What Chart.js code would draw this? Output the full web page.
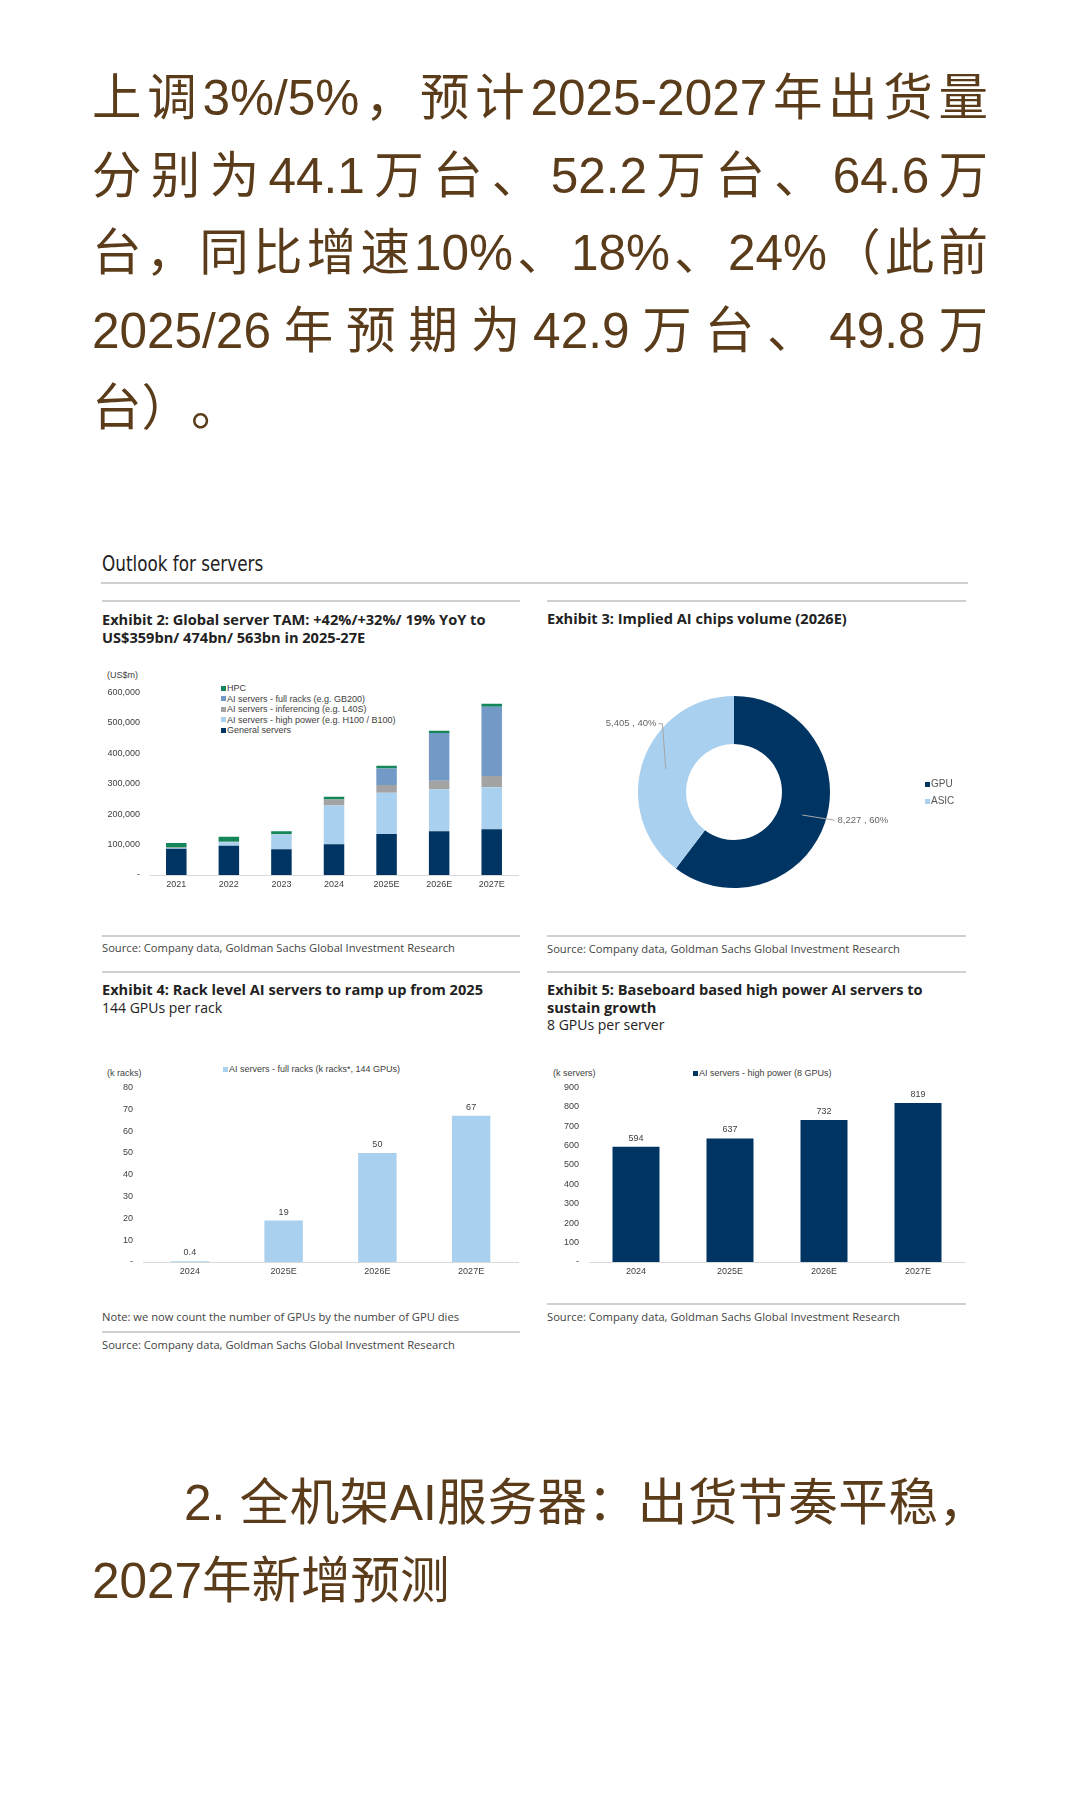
<!DOCTYPE html>
<html>
<head>
<meta charset="utf-8">
<script src="https://cdn.jsdelivr.net/npm/chart.js@4.4.1/dist/chart.umd.min.js"></script>
<style>
body { margin: 0; background: #fff; width: 1080px; height: 1800px; position: relative; overflow: hidden; font-family: "Open Sans", sans-serif; }
.cn { position: absolute; left: 92px; width: 896px; font-family: "Liberation Sans", "Noto Sans CJK SC", sans-serif; font-size: 49.5px; color: #5a3c1a; text-spacing-trim: space-all; }
.cn div { height: 77.5px; line-height: 77.5px; text-align: justify; text-align-last: justify; }
.cn div.last { text-align-last: left; }
.abs { position: absolute; }
.hr { position: absolute; height: 1.5px; background: #cfcfcf; }
.title { position: absolute; font-size: 14.6px; font-weight: 700; line-height: 17.5px; color: #222; white-space: nowrap; }
.sub { font-weight: 400; font-size: 14px; }
.src { position: absolute; font-size: 11.2px; line-height: 14px; color: #444; white-space: nowrap; }
.small { position: absolute; font-family: "Liberation Sans", Arial, sans-serif; font-size: 9px; color: #404040; white-space: nowrap; }
.lg i { display: inline-block; width: 5px; height: 5px; margin-right: 1px; vertical-align: 0.5px; }
canvas { position: absolute; }
</style>
</head>
<body>

<div class="cn" style="top:59px">
  <div>上调3%/5%，预计2025-2027年出货量</div>
  <div>分别为44.1万台、52.2万台、64.6万</div>
  <div>台，同比增速10%、18%、24%（此前</div>
  <div>2025/26年预期为42.9万台、49.8万</div>
  <div class="last">台）。</div>
</div>

<div class="abs" style="left:102px;top:552px;font-family:'Liberation Sans Narrow','DejaVu Sans Condensed',sans-serif;font-size:21px;line-height:25px;color:#222;transform:scaleX(0.89);transform-origin:left center">Outlook for servers</div>
<div class="hr" style="left:101px;top:582px;width:867px"></div>

<!-- row 1 -->
<div class="hr" style="left:102px;top:600px;width:418px"></div>
<div class="hr" style="left:547px;top:600px;width:419px"></div>
<div class="title" style="left:102px;top:611px">Exhibit 2: Global server TAM: +42%/+32%/ 19% YoY to<br>US$359bn/ 474bn/ 563bn in 2025-27E</div>
<div class="title" style="left:547px;top:610px">Exhibit 3: Implied AI chips volume (2026E)</div>

<div class="small" style="left:107px;top:670px">(US$m)</div>
<div class="small lg" id="legend2" style="left:221px;top:683px;line-height:10.5px"></div>
<canvas id="tam" style="left:100px;top:677px;width:420px;height:218px"></canvas>

<canvas id="chips" style="left:548px;top:650px;width:420px;height:280px"></canvas>
<div class="small lg" id="legend3" style="left:925px;top:775px;line-height:17px;font-size:10px;color:#555"></div>

<div class="hr" style="left:102px;top:935px;width:418px"></div>
<div class="hr" style="left:547px;top:935px;width:419px"></div>
<div class="src" style="left:102px;top:941px">Source: Company data, Goldman Sachs Global Investment Research</div>
<div class="src" style="left:547px;top:942px">Source: Company data, Goldman Sachs Global Investment Research</div>

<!-- row 2 -->
<div class="hr" style="left:102px;top:971px;width:418px"></div>
<div class="hr" style="left:547px;top:971px;width:419px"></div>
<div class="title" style="left:102px;top:981px">Exhibit 4: Rack level AI servers to ramp up from 2025<br><span class="sub">144 GPUs per rack</span></div>
<div class="title" style="left:547px;top:981px">Exhibit 5: Baseboard based high power AI servers to<br>sustain growth<br><span class="sub">8 GPUs per server</span></div>

<div class="small" style="left:107px;top:1068px">(k racks)</div>
<div class="small lg" id="legend4" style="left:223px;top:1064px"></div>
<canvas id="racks" style="left:100px;top:1072px;width:420px;height:210px"></canvas>

<div class="small" style="left:553px;top:1068px">(k servers)</div>
<div class="small lg" id="legend5" style="left:693px;top:1068px"></div>
<canvas id="servers" style="left:548px;top:1072px;width:420px;height:210px"></canvas>

<div class="src" style="left:102px;top:1310px">Note: we now count the number of GPUs by the number of GPU dies</div>
<div class="hr" style="left:102px;top:1331px;width:418px"></div>
<div class="src" style="left:102px;top:1338px">Source: Company data, Goldman Sachs Global Investment Research</div>
<div class="hr" style="left:547px;top:1303px;width:419px"></div>
<div class="src" style="left:547px;top:1310px">Source: Company data, Goldman Sachs Global Investment Research</div>

<div class="cn" style="top:1464px">
  <div style="height:78px;line-height:78px;text-indent:92px">2. 全机架AI服务器：出货节奏平稳，</div>
  <div class="last" style="height:78px;line-height:78px">2027年新增预测</div>
</div>

<script>
// Exhibit 2: global server TAM (US$m)
const tamYears = ['2021', '2022', '2023', '2024', '2025E', '2026E', '2027E'];
const generalServers = [86000, 96000, 85000, 101000, 135000, 144000, 150000];
const highPowerAI = [3000, 12000, 48000, 127000, 135000, 138000, 138000];
const inferencingAI = [1000, 1000, 2000, 20000, 26000, 28000, 37000];
const fullRackAI = [0, 0, 0, 0, 54000, 157000, 228000];
const hpcServers = [15000, 17000, 9000, 9000, 9000, 7000, 10000];
const tamTicks = [0, 100000, 200000, 300000, 400000, 500000, 600000];

// Exhibit 3: implied AI chips volume 2026E
const chipTypes = ['GPU', 'ASIC'];
const chipVolumes = [8227, 5405];

// Exhibit 4 / 5
const rackYears = ['2024', '2025E', '2026E', '2027E'];
const fullRacks = [0.4, 19, 50, 67];
const hpServers = [594, 637, 732, 819];

const NAVY = '#003462';
const LIGHT = '#a9d0ee';

Chart.defaults.font.family = '"Liberation Sans", Arial, sans-serif';
Chart.defaults.font.size = 9;
Chart.defaults.color = '#404040';
Chart.defaults.animation = false;

const fmt = v => v === 0 ? '-' : v.toLocaleString('en-US');

function barScales(max, step, yWidth, stacked) {
    return {
        x: {
            stacked: stacked,
            grid: { display: false, drawTicks: false },
            border: { color: '#d9d9d9', width: 1 },
            ticks: { padding: 4 },
            afterFit: s => { s.height = 20; }
        },
        y: {
            stacked: stacked,
            min: 0,
            max: max,
            grid: { display: false, drawTicks: false },
            border: { display: false },
            ticks: { stepSize: step, padding: 10, callback: v => fmt(v) },
            afterFit: s => { s.width = yWidth; }
        }
    };
}

// value labels above single-series bars
const barValueLabels = {
    id: 'barValueLabels',
    afterDatasetsDraw(chart) {
        const ctx = chart.ctx;
        const values = chart.data.datasets[0].data;
        ctx.save();
        ctx.font = '9px "Liberation Sans", Arial';
        ctx.fillStyle = '#404040';
        ctx.textAlign = 'center';
        ctx.textBaseline = 'bottom';
        chart.getDatasetMeta(0).data.forEach((bar, i) => {
            ctx.fillText(String(values[i]), bar.x, bar.y - 4);
        });
        ctx.restore();
    }
};

// leader-line labels for the doughnut
const donutLabels = {
    id: 'donutLabels',
    afterDatasetsDraw(chart, args, opts) {
        const ctx = chart.ctx;
        const values = chart.data.datasets[0].data;
        const total = values.reduce((a, b) => a + b, 0);
        ctx.save();
        ctx.font = '9.5px "Liberation Sans", Arial';
        ctx.fillStyle = '#666';
        ctx.strokeStyle = '#a6a6a6';
        ctx.lineWidth = 1;
        ctx.textBaseline = 'middle';
        chart.getDatasetMeta(0).data.forEach((arc, i) => {
            const mid = (arc.startAngle + arc.endAngle) / 2;
            const rMid = (arc.innerRadius + arc.outerRadius) / 2;
            const c = Math.cos(mid), s = Math.sin(mid);
            const x0 = arc.x + c * rMid, y0 = arc.y + s * rMid;
            const off = opts.offsets[i];
            const x1 = arc.x + c * (arc.outerRadius + 8) + off[0];
            const y1 = arc.y + s * (arc.outerRadius + 8) + off[1];
            const text = values[i].toLocaleString('en-US') + ' , ' + Math.round(values[i] / total * 100) + '%';
            ctx.beginPath();
            ctx.moveTo(x0, y0);
            ctx.lineTo(x1, y1);
            if (c < 0) {
                ctx.lineTo(x1 - 4, y1);
                ctx.stroke();
                ctx.textAlign = 'right';
                ctx.fillText(text, x1 - 6, y1);
            } else {
                ctx.stroke();
                ctx.textAlign = 'left';
                ctx.fillText(text, x1 + 3, y1);
            }
        });
        ctx.restore();
    }
};

function htmlLegend(id, items, reverse) {
    const list = reverse ? [...items].reverse() : items;
    document.getElementById(id).innerHTML = list
        .map(it => `<div><i style="background:${it.color}"></i>${it.label}</div>`)
        .join('');
}

// Exhibit 2
const tamSets = [
    { label: 'General servers', data: generalServers, backgroundColor: NAVY },
    { label: 'AI servers - high power (e.g. H100 / B100)', data: highPowerAI, backgroundColor: LIGHT },
    { label: 'AI servers - inferencing (e.g. L40S)', data: inferencingAI, backgroundColor: '#a3a3a3' },
    { label: 'AI servers - full racks (e.g. GB200)', data: fullRackAI, backgroundColor: '#7399c6' },
    { label: 'HPC', data: hpcServers, backgroundColor: '#13865a' }
];
const tamScales = barScales(600000, 100000, 50, true);
tamScales.y.afterBuildTicks = s => { s.ticks = tamTicks.map(v => ({ value: v })); };
new Chart(document.getElementById('tam'), {
    type: 'bar',
    data: {
        labels: tamYears,
        datasets: tamSets.map(d => ({ ...d, categoryPercentage: 1, barPercentage: 0.39 }))
    },
    options: {
        responsive: false,
        layout: { padding: { top: 10, right: 2, left: 0, bottom: 0 } },
        plugins: { legend: { display: false }, tooltip: { enabled: false } },
        scales: tamScales
    }
});
htmlLegend('legend2', tamSets.map(d => ({ label: d.label, color: d.backgroundColor })), true);

// Exhibit 3
const chipColors = [NAVY, LIGHT];
new Chart(document.getElementById('chips'), {
    type: 'doughnut',
    data: {
        labels: chipTypes,
        datasets: [{ data: chipVolumes, backgroundColor: chipColors, borderWidth: 0, hoverOffset: 0 }]
    },
    options: {
        responsive: false,
        cutout: '50%',
        layout: { padding: { left: 90, right: 138, top: 46, bottom: 42 } },
        plugins: {
            legend: { display: false },
            tooltip: { enabled: false },
            donutLabels: { offsets: [[2, -5], [27, -35]] }
        }
    },
    plugins: [donutLabels]
});
htmlLegend('legend3', chipTypes.map((t, i) => ({ label: t, color: chipColors[i] })), false);

// Exhibit 4
new Chart(document.getElementById('racks'), {
    type: 'bar',
    data: {
        labels: rackYears,
        datasets: [{
            label: 'AI servers - full racks (k racks*, 144 GPUs)',
            data: fullRacks,
            backgroundColor: LIGHT,
            categoryPercentage: 1,
            barPercentage: 0.41
        }]
    },
    options: {
        responsive: false,
        layout: { padding: { top: 10, right: 2, left: 0, bottom: 0 } },
        plugins: { legend: { display: false }, tooltip: { enabled: false } },
        scales: barScales(80, 10, 43, false)
    },
    plugins: [barValueLabels]
});
htmlLegend('legend4', [{ label: 'AI servers - full racks (k racks*, 144 GPUs)', color: LIGHT }], false);

// Exhibit 5
new Chart(document.getElementById('servers'), {
    type: 'bar',
    data: {
        labels: rackYears,
        datasets: [{
            label: 'AI servers - high power (8 GPUs)',
            data: hpServers,
            backgroundColor: NAVY,
            categoryPercentage: 1,
            barPercentage: 0.5
        }]
    },
    options: {
        responsive: false,
        layout: { padding: { top: 10, right: 3, left: 0, bottom: 0 } },
        plugins: { legend: { display: false }, tooltip: { enabled: false } },
        scales: barScales(900, 100, 41, false)
    },
    plugins: [barValueLabels]
});
htmlLegend('legend5', [{ label: 'AI servers - high power (8 GPUs)', color: NAVY }], false);
</script>
</body>
</html>
